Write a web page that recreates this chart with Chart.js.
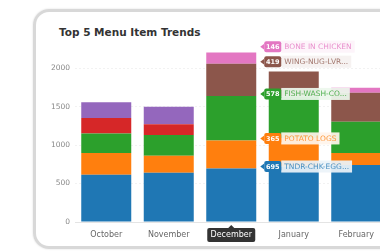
<!DOCTYPE html>
<html>
<head>
<meta charset="utf-8">
<script src="https://cdn.jsdelivr.net/npm/chart.js@4.4.1/dist/chart.umd.min.js"></script>
<style>
  html, body { margin: 0; padding: 0; background: #fff; overflow: hidden; width: 380px; height: 252px; }
  .card {
    position: absolute; left: 33px; top: 9px; width: 420px; height: 234px;
    border: 3px solid #d8d8d8; border-radius: 16px;
    box-shadow: 0 0 2px rgba(0,0,0,0.15);
  }
  .title {
    position: absolute; left: 59px; top: 26px;
    font: bold 10.5px 'DejaVu Sans', sans-serif; color: #333;
  }
  #wrap { position: absolute; left: 0; top: 0; width: 420px; height: 252px; }
</style>
</head>
<body>
<div class="card"></div>
<div class="title">Top 5 Menu Item Trends</div>
<div id="wrap"><canvas id="trends" width="420" height="252"></canvas></div>
<script>
// months on the x axis
const months = ['October', 'November', 'December', 'January', 'February'];

// stacked series, bottom to top
const tndrChkEgg = [615, 640, 695, 720, 742];
const potatoLogs = [283, 221, 365, 370, 156];
const fishWash   = [251, 270, 578, 540, 404];
const shrimpBskt = [204, 139, 0, 0, 0];
const catfishDnr = [203, 229, 0, 0, 0];
const wingNugLvr = [0, 0, 419, 327, 378];
const boneInChkn = [0, 0, 146, 0, 65];

const seriesNames = ['TNDR-CHK-EGG...', 'POTATO LOGS', 'FISH-WASH-CO...', 'SHRIMP BASKET', 'CATFISH DINNER', 'WING-NUG-LVR...', 'BONE IN CHICKEN'];
const seriesData = [tndrChkEgg, potatoLogs, fishWash, shrimpBskt, catfishDnr, wingNugLvr, boneInChkn];
const seriesColors = ['#1f77b4', '#ff7f0e', '#2ca02c', '#d62728', '#9467bd', '#8c564b', '#e377c2'];

const yTicks = [0, 500, 1000, 1500, 2000];
const hoverIndex = 2; // December is highlighted

const FONT = "'DejaVu Sans', sans-serif";

function hexA(hex, a) {
    const n = parseInt(hex.slice(1), 16);
    return `rgba(${(n >> 16) & 255}, ${(n >> 8) & 255}, ${n & 255}, ${a})`;
}

// static hover look: month badge on the axis + value labels next to the bar
const hoverPlugin = {
    id: 'hoverPlugin',
    beforeDraw(chart) {
        const c = chart.ctx;
        const x = chart.scales.x;
        const px = x.getPixelForTick(hoverIndex);
        const top = x.top + 6;
        c.save();
        c.fillStyle = '#333';
        c.beginPath();
        c.roundRect(px - 24, top, 48, 14, 2);
        c.fill();
        c.beginPath();
        c.moveTo(px - 3, top);
        c.lineTo(px, top - 3);
        c.lineTo(px + 3, top);
        c.fill();
        c.restore();
    },
    afterDatasetsDraw(chart) {
        const c = chart.ctx;
        let lastY = Infinity;
        c.save();
        seriesData.forEach((data, i) => {
            const v = data[hoverIndex];
            if (!v) return;
            const bar = chart.getDatasetMeta(i).data[hoverIndex];
            const y = Math.min(bar.y - 2, lastY - 15);
            lastY = y;
            const color = seriesColors[i];
            const bx = bar.x + bar.width / 2 + 8;
            // text box
            c.font = `7.5px ${FONT}`;
            const tw = c.measureText(seriesNames[i]).width;
            c.fillStyle = 'rgba(255,255,255,0.92)';
            c.fillRect(bx + 17, y - 6, tw + 6, 12);
            c.fillStyle = hexA(color, 0.08);
            c.fillRect(bx + 17, y - 6, tw + 6, 12);
            c.fillStyle = hexA(color, 0.8);
            c.textBaseline = 'middle';
            c.textAlign = 'left';
            c.fillText(seriesNames[i], bx + 20, y + 0.5);
            // value badge with caret
            c.fillStyle = color;
            c.beginPath();
            c.roundRect(bx, y - 5.5, 17, 11, 2);
            c.fill();
            c.beginPath();
            c.moveTo(bx, y - 3);
            c.lineTo(bx - 4, y);
            c.lineTo(bx, y + 3);
            c.fill();
            c.fillStyle = '#fff';
            c.font = `bold 6.5px ${FONT}`;
            c.textAlign = 'center';
            c.fillText(String(v), bx + 8.5, y + 0.5);
        });
        c.restore();
    },
};

new Chart(document.getElementById('trends'), {
    type: 'bar',
    data: {
        labels: months,
        datasets: seriesData.map((data, i) => ({
            label: seriesNames[i],
            data,
            backgroundColor: seriesColors[i],
            borderWidth: 0,
            categoryPercentage: 1,
            barPercentage: 0.8,
        })),
    },
    options: {
        responsive: false,
        animation: false,
        events: [],
        layout: { padding: { left: 40, right: 32.5, top: 45, bottom: 9 } },
        plugins: {
            legend: { display: false },
            tooltip: { enabled: false },
        },
        scales: {
            x: {
                stacked: true,
                grid: { display: false, drawTicks: false },
                border: { color: '#e4e4e4' },
                ticks: {
                    padding: 8,
                    color: ctx => ctx.index === hoverIndex ? '#fff' : '#666',
                    font: { size: 8, family: FONT },
                },
                afterFit: s => { s.height = 21; },
            },
            y: {
                stacked: true,
                min: 0,
                max: 2300,
                grid: { color: 'rgba(0,0,0,0.05)', drawTicks: false },
                border: { display: false, dash: [2, 2] },
                ticks: {
                    padding: 5,
                    color: '#888',
                    font: { size: 7.5, family: FONT },
                    callback: v => String(v),
                },
                afterBuildTicks: s => { s.ticks = yTicks.map(value => ({ value })); },
                afterFit: s => { s.width = 35; },
            },
        },
    },
    plugins: [hoverPlugin],
});
</script>
</body>
</html>
